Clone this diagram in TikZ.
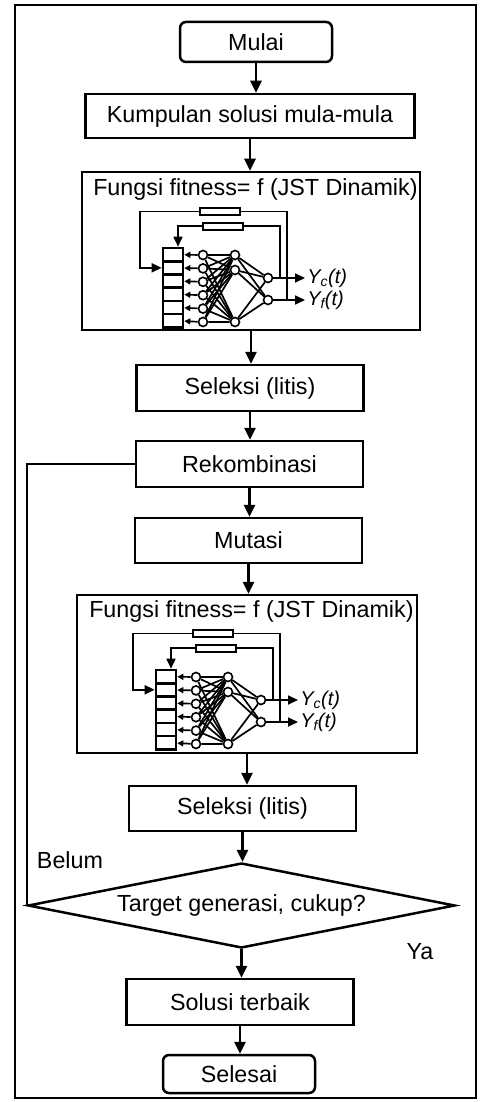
\documentclass[tikz,border=0pt]{standalone}
\usepackage{fontspec}
\setmainfont{Liberation Sans}
\usetikzlibrary{shapes.geometric, arrows.meta}

% dynamic network drawn inside a fitness box (coordinates of the first box)
\newcommand{\jstnet}[1]{%
    % Delay elements
    \node[res] (#1-r1) at (220, 211.5) {};
    \node[res] (#1-r2) at (223, 226) {};
    % Input cells and neurons
    \foreach \k in {0,...,5} {
        \node[cell] (#1-c\k) at (173, {254.6 + 13.2*\k}) {};
        \node[neuron] (#1-i\k) at (203, {255 + 13.4*\k}) {};
    }
    \node[neuron] (#1-h1) at (235, 255) {};
    \node[neuron] (#1-h2) at (235, 270) {};
    \node[neuron] (#1-h3) at (235, 322) {};
    \node[neuron] (#1-o1) at (268, 278) {};
    \node[neuron] (#1-o2) at (268, 300) {};
    \node[outlabel] (#1-yc) at (305, 278) {Y\textsubscript{c}(t)};
    \node[outlabel] (#1-yf) at (305, 300) {Y\textsubscript{f}(t)};
    \coordinate (#1-ja) at (280, 278);
    \coordinate (#1-jb) at (287, 300);
    \coordinate (#1-k1) at (140, 211.5);
    \coordinate (#1-k2) at (178, 226);
    % Connections
    \foreach \k in {0,...,5} {
        \draw[netline, -{Triangle[length=6pt, width=6pt]}] (#1-i\k) -- (#1-c\k);
        \foreach \h in {1,2,3}
            \draw[netline] (#1-i\k) -- (#1-h\h);
    }
    \foreach \h in {1,2,3}
        \foreach \o in {1,2}
            \draw[netline] (#1-h\h) -- (#1-o\o);
    \draw[netline, netarrow] (#1-o1) -- (#1-yc.west);
    \draw[netline, netarrow] (#1-o2) -- (#1-yf.west);
    % Feedback loops
    \draw[netline] (#1-jb) |- (#1-r1.east);
    \draw[netline, netarrow] (#1-r1.west) -- (#1-k1) |- (#1-c1.west);
    \draw[netline] (#1-ja) |- (#1-r2.east);
    \draw[netline, netarrow] (#1-r2.west) -- (#1-k2) -- (#1-k2 |- #1-c0.north);
}

\begin{document}
\begin{tikzpicture}[x=1pt, y=-1pt, line width=2.5pt,
    >={Triangle[length=12pt, width=11pt]},
    font=\fontsize{23.3}{27}\selectfont,
    block/.style={draw, rectangle, minimum width=227pt, minimum height=46pt, inner sep=0pt},
    term/.style={draw, rectangle, rounded corners=6pt, minimum width=152pt, minimum height=40pt},
    fitbox/.style={draw, rectangle, minimum width=340pt, minimum height=158pt},
    decide/.style={draw, diamond, aspect=5, minimum width=427pt, minimum height=85pt, inner sep=0pt},
    res/.style={draw, rectangle, line width=2pt, minimum width=40pt, minimum height=7pt, inner sep=0pt},
    cell/.style={draw, rectangle, line width=2.6pt, minimum width=20pt, minimum height=13.2pt, inner sep=0pt},
    neuron/.style={draw, circle, fill=white, line width=1.6pt, minimum size=9pt, inner sep=0pt},
    netline/.style={line width=1.7pt},
    netarrow/.style={-{Triangle[length=10pt, width=9pt]}},
    outlabel/.style={anchor=west, inner sep=1pt, font=\fontsize{20}{24}\selectfont\itshape}]

    \useasboundingbox (0, 0) rectangle (484, 1102);
    \draw[line width=2.8pt] (15, 5) rectangle (476, 1098);

    % Nodes
    \node[term] (mulai) at (256, 42) {Mulai};
    \node[block, minimum width=329pt, minimum height=44pt] (awal) at (250, 116) {Kumpulan solusi mula-mula};
    \node[fitbox, minimum width=338pt] (fit1) at (251, 251) {};
    \node[block] (sel1) at (250, 388) {Seleksi (litis)};
    \node[block] (reko) at (249.5, 464) {Rekombinasi};
    \node[block, minimum height=45pt] (mutasi) at (248.5, 540.5) {Mutasi};
    \node[fitbox] (fit2) at (247, 674) {};
    \node[block, minimum height=45pt] (sel2) at (242.5, 808.5) {Seleksi (litis)};
    \node[decide] (cek) at (241.5, 905.5) {Target generasi, cukup?};
    \node[block] (solusi) at (240, 1002) {Solusi terbaik};
    \node[term, minimum height=38pt] (selesai) at (239, 1074) {Selesai};

    \node[anchor=west, inner sep=0pt] (judul1) at (92, 189) {Fungsi fitness= f (JST Dinamik)};
    \node[anchor=west, inner sep=0pt] (judul2) at (88, 611) {Fungsi fitness= f (JST Dinamik)};

    \node (belum) at (70, 860) {Belum};
    \node (ya) at (420, 952) {Ya};

    % Networks
    \begin{scope}
        \jstnet{a}
    \end{scope}
    \begin{scope}[shift={(-7, 422)}]
        \jstnet{b}
    \end{scope}

    % Edges
    \draw[->] (mulai.south) -- (mulai.south |- awal.north);
    \draw[->] (awal.south) -- (awal.south |- fit1.north);
    \draw[->] (fit1.south) -- (fit1.south |- sel1.north);
    \draw[->] (sel1.south) -- (sel1.south |- reko.north);
    \draw[->] (reko.south) -- (reko.south |- mutasi.north);
    \draw[->] (mutasi.south) -- (mutasi.south |- fit2.north);
    \draw[->] (fit2.south) -- (fit2.south |- sel2.north);
    \draw[->] (sel2.south) -- (sel2.south |- cek.north);
    \draw[->] (cek.south) -- (cek.south |- solusi.north);
    \draw[->] (solusi.south) -- (solusi.south |- selesai.north);
    \draw (reko.west) -| (cek.west);
\end{tikzpicture}
\end{document}
